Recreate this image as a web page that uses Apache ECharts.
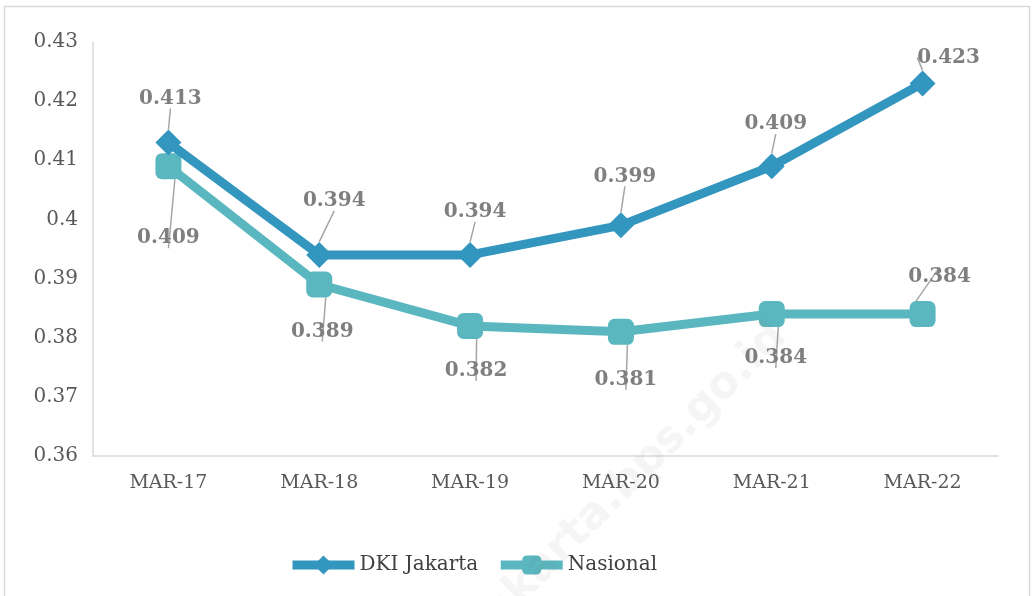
<!DOCTYPE html>
<html>
<head>
<meta charset="utf-8">
<script src="https://cdn.jsdelivr.net/npm/echarts@6/dist/echarts.min.js"></script>
<style>
  html, body { margin: 0; padding: 0; background: #fff; }
  #chart { width: 1034px; height: 596px; }
</style>
</head>
<body>
<div id="chart"></div>
<script>
var categories = ['MAR-17', 'MAR-18', 'MAR-19', 'MAR-20', 'MAR-21', 'MAR-22'];
var jakarta = [0.413, 0.394, 0.394, 0.399, 0.409, 0.423];
var nasional = [0.409, 0.389, 0.382, 0.381, 0.384, 0.384];
var yTicks = [0.36, 0.37, 0.38, 0.39, 0.4, 0.41, 0.42, 0.43];

(function () {
    var myChart = echarts.init(document.getElementById('chart'));
    var font = '"DejaVu Serif", "Liberation Serif", serif';

    // label offsets from the marker centre, so leader lines look like the original
    var jkOffset = [[2, -44], [15, -54], [5, -43], [4, -49], [4, -42], [26, -26]];
    var nsOffset = [[0, 72], [3, 47], [6, 45], [5, 48], [4, 44], [17, -37]];

    function layoutFor(offsets) {
        return function (p) {
            var o = offsets[p.dataIndex];
            return { dx: o[0], dy: o[1] };
        };
    }

    var labelStyle = {
        show: true,
        position: 'inside',
        color: '#7f7f7f',
        fontFamily: font,
        fontWeight: 'bold',
        fontSize: 20
    };

    var option = {
        animation: false,
        color: ['#3396bf', '#5ab7bf'],
        graphic: [
            {   // outer frame
                type: 'rect',
                shape: { x: 4.5, y: 6.5, width: 1025, height: 600 },
                style: { fill: 'none', stroke: '#d9d9d9', lineWidth: 1.5 },
                silent: true
            },
            {   // faint watermark
                type: 'text',
                x: 630, y: 480,
                rotation: Math.PI / 4,
                style: {
                    text: 'jakarta.bps.go.id',
                    font: 'bold 44px "DejaVu Sans", sans-serif',
                    fill: 'rgba(120,120,120,0.07)',
                    textAlign: 'center',
                    textVerticalAlign: 'middle'
                },
                silent: true,
                z: 100
            }
        ],
        grid: {
            left: 93,
            right: 36,
            top: 42,
            bottom: 140
        },
        legend: {
            bottom: 16,
            left: 283,
            itemWidth: 62,
            itemHeight: 24,
            itemGap: 18,
            lineStyle: { width: 9 },
            textStyle: {
                color: '#404040',
                fontFamily: font,
                fontSize: 20
            },
            data: ['DKI Jakarta', 'Nasional']
        },
        xAxis: {
            type: 'category',
            data: categories,
            boundaryGap: true,
            axisTick: { show: false },
            axisLine: { lineStyle: { color: '#d9d9d9', width: 1.5 } },
            axisLabel: {
                color: '#595959',
                fontFamily: font,
                fontSize: 19,
                margin: 18
            }
        },
        yAxis: {
            type: 'value',
            min: yTicks[0],
            max: yTicks[yTicks.length - 1],
            interval: 0.01,
            axisLine: { show: true, lineStyle: { color: '#d9d9d9', width: 1.5 } },
            axisTick: { show: false },
            splitLine: { show: false },
            axisLabel: {
                color: '#595959',
                fontFamily: font,
                fontSize: 20,
                margin: 15,
                formatter: function (v) { return String(parseFloat(v.toFixed(2))); }
            }
        },
        series: [
            {
                name: 'DKI Jakarta',
                type: 'line',
                data: jakarta,
                symbol: 'diamond',
                symbolSize: 26,
                lineStyle: { width: 9 },
                itemStyle: { color: '#3396bf' },
                label: labelStyle,
                labelLine: { show: true, lineStyle: { color: '#a6a6a6', width: 1.5 } },
                labelLayout: layoutFor(jkOffset),
                z: 3
            },
            {
                name: 'Nasional',
                type: 'line',
                data: nasional,
                symbol: 'roundRect',
                symbolSize: 26,
                lineStyle: { width: 9 },
                itemStyle: { color: '#5ab7bf' },
                label: labelStyle,
                labelLine: { show: true, lineStyle: { color: '#a6a6a6', width: 1.5 } },
                labelLayout: layoutFor(nsOffset),
                z: 2
            }
        ]
    };
    myChart.setOption(option);
})();
</script>
</body>
</html>
